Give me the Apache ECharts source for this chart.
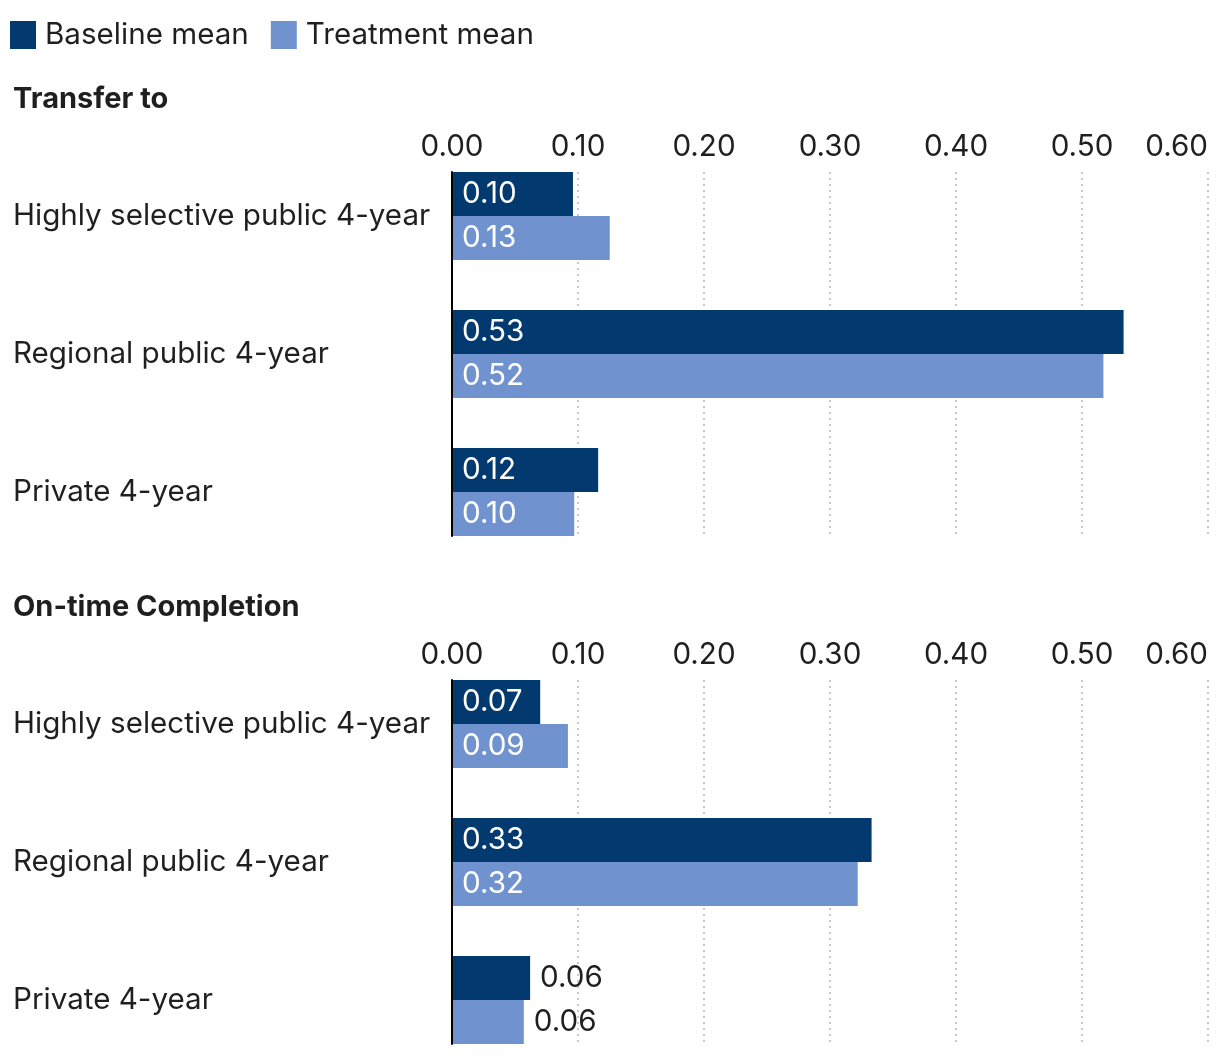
<!DOCTYPE html>
<html>
<head>
<meta charset="utf-8">
<script src="https://cdn.jsdelivr.net/npm/echarts@6/dist/echarts.min.js"></script>
<style>
html,body{margin:0;padding:0;background:#fff;}
#main{width:1220px;height:1056px;}
</style>
</head>
<body>
<div id="main"></div>
<script>
const categories = ['Highly selective public 4-year', 'Regional public 4-year', 'Private 4-year'];
const seriesNames = ['Baseline mean', 'Treatment mean'];
const panelTitles = ['Transfer to', 'On-time Completion'];
const transferBaseline = [0.096, 0.533, 0.116];
const transferTreatment = [0.1252, 0.517, 0.097];
const completionBaseline = [0.070, 0.333, 0.062];
const completionTreatment = [0.092, 0.322, 0.057];
const axisMin = 0, axisMax = 0.6, axisInterval = 0.1;

const FONT = 'Inter';
const FS = 29.6;
const TXT = '#1f1f1f';
const DARK = '#023a70';
const LIGHT = '#7093d0';

const chart = echarts.init(document.getElementById('main'));

const panelTops = [172, 680];
const grids = [], xAxes = [], yAxes = [], series = [], titles = [];

function makeData(vals) {
  return vals.map(v => {
    const inside = v >= 0.065;
    return {
      value: v,
      label: inside
        ? { position: 'insideLeft', distance: 10, color: '#ffffff' }
        : { position: 'right', distance: 10, color: TXT }
    };
  });
}

const panelData = [[transferBaseline, transferTreatment], [completionBaseline, completionTreatment]];

panelTops.forEach((top, p) => {
  grids.push({ left: 452, right: 12, top: top, height: 364, outerBoundsMode: 'none', containLabel: false });
  grids.push({ left: 452, right: 12, top: top - 25, height: 414, outerBoundsMode: 'none', containLabel: false });
  const gd = p * 2, gb = p * 2 + 1;
  xAxes.push({
    gridIndex: gd, type: 'value', position: 'top', min: axisMin, max: axisMax, interval: axisInterval,
    axisLine: { show: false }, axisTick: { show: false },
    axisLabel: { show: true, margin: 10, fontFamily: FONT, fontSize: FS, color: TXT,
      formatter: v => v.toFixed(2), alignMaxLabel: 'right' },
    splitLine: { show: true, lineStyle: { color: '#c8c8c8', width: 2, type: [2, 4] } }
  });
  xAxes.push({
    gridIndex: gb, type: 'value', min: axisMin, max: axisMax, interval: axisInterval, show: false,
    splitLine: { show: false }
  });
  yAxes.push({
    gridIndex: gd, type: 'category', data: categories, inverse: true, z: 10,
    axisLine: { show: true, lineStyle: { color: '#000', width: 2 } },
    axisTick: { show: false }, axisLabel: { show: false }, splitLine: { show: false }
  });
  yAxes.push({
    gridIndex: gb, type: 'category', data: categories, inverse: true,
    axisLine: { show: false }, axisTick: { show: false },
    axisLabel: { show: true, align: 'left', margin: 439, fontFamily: FONT, fontSize: FS, color: TXT,
      padding: [8, 0, 0, 0] },
    splitLine: { show: false }
  });
  [0, 1].forEach(s => {
    series.push({
      name: seriesNames[s], type: 'bar', xAxisIndex: gb, yAxisIndex: gb,
      barWidth: 44, barGap: '0%',
      itemStyle: { color: s === 0 ? DARK : LIGHT },
      label: { show: true, fontFamily: FONT, fontSize: FS, padding: [6, 0, 0, 0],
        formatter: d => d.value.toFixed(2) },
      data: makeData(panelData[p][s])
    });
  });
  titles.push({
    text: panelTitles[p], left: 13, top: top - 87, padding: 0,
    textStyle: { fontFamily: FONT, fontSize: 29, fontWeight: 'bold', color: TXT }
  });
});

chart.setOption({
  animation: false,
  title: titles,
  legend: {
    data: seriesNames, left: 10, top: 20, padding: 0,
    icon: 'rect', itemWidth: 26, itemHeight: 28, itemGap: 22,
    textStyle: { fontFamily: FONT, fontSize: FS, color: TXT, padding: [4, 0, 0, 4] }
  },
  grid: grids,
  xAxis: xAxes,
  yAxis: yAxes,
  series: series
});
</script>
</body>
</html>
